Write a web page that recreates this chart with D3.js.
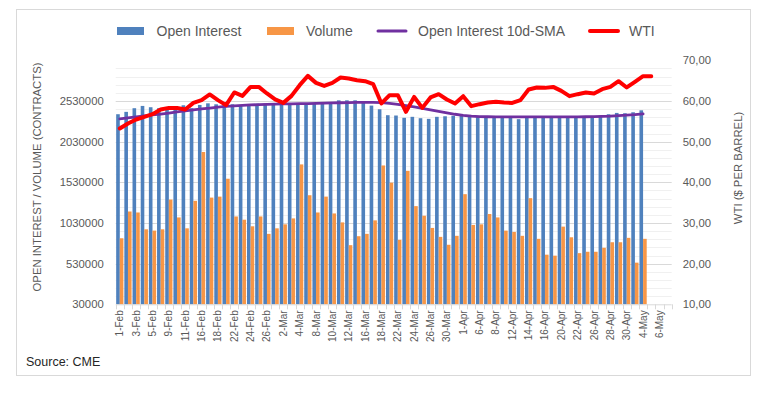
<!DOCTYPE html>
<html><head><meta charset="utf-8">
<script src="https://cdn.jsdelivr.net/npm/d3@7"></script>
<style>
html,body{margin:0;padding:0;background:#fff;}
svg text{font-family:"Liberation Sans",Arial,sans-serif;}
</style></head>
<body><svg id="c" width="778" height="394"></svg>
<script>
const categories = ["1-Feb","2-Feb","3-Feb","4-Feb","5-Feb","8-Feb","9-Feb","10-Feb","11-Feb","12-Feb","16-Feb","17-Feb","18-Feb","19-Feb","22-Feb","23-Feb","24-Feb","25-Feb","26-Feb",
"1-Mar","2-Mar","3-Mar","4-Mar","5-Mar","8-Mar","9-Mar","10-Mar","11-Mar","12-Mar","15-Mar","16-Mar","17-Mar","18-Mar","19-Mar","22-Mar","23-Mar","24-Mar","25-Mar","26-Mar","29-Mar","30-Mar","31-Mar",
"1-Apr","5-Apr","6-Apr","7-Apr","8-Apr","9-Apr","12-Apr","13-Apr","14-Apr","15-Apr","16-Apr","19-Apr","20-Apr","21-Apr","22-Apr","23-Apr","26-Apr","27-Apr","28-Apr","29-Apr","30-Apr",
"3-May","4-May","5-May","6-May","7-May"];

const openInterest = [2367000,2396000,2441000,2469000,2453000,2441000,2441000,2436000,2477000,2441000,
2481000,2501000,2489000,2481000,2489000,2481000,2493000,2497000,2497000,2501000,
2501000,2501000,2501000,2493000,2493000,2501000,2505000,2538000,2538000,2538000,
2522000,2473000,2428000,2355000,2351000,2323000,2335000,2318000,2310000,2335000,
2342000,2347000,2347000,2339000,2339000,2339000,2335000,2335000,2335000,2306000,
2330000,2330000,2330000,2330000,2330000,2326000,2326000,2326000,2326000,2351000,
2367000,2383000,2379000,2391000,2415000];

const volume = [842000,1171000,1159000,952000,936000,952000,1318000,1098000,964000,1302000,
1903000,1342000,1354000,1574000,1110000,1070000,989000,1110000,896000,964000,
1013000,1086000,1750000,1371000,1159000,1354000,1147000,1037000,757000,867000,
896000,1062000,1737000,1525000,823000,1671000,1237000,1119000,969000,859000,
762000,872000,1384000,1006000,1013000,1140000,1098000,936000,920000,872000,
1335000,835000,640000,628000,985000,854000,659000,676000,676000,725000,
793000,793000,847000,542000,835000];

const oiSma = [2310500,2322700,2334900,2347100,2359300,2369000,2381200,2395900,2408000,2420000,
2432400,2442200,2454400,2463000,2470200,2476300,2481200,2484900,2488500,2491000,
2493400,2494600,2497000,2498300,2500700,2503200,2505600,2508000,2509300,2511700,
2512900,2512900,2509300,2500700,2488500,2472700,2456800,2439800,2421500,2402000,
2383700,2366600,2353200,2343400,2338500,2336100,2334900,2334900,2334900,2334900,
2334900,2334900,2334900,2334900,2334900,2334900,2334900,2336100,2338500,2341000,
2344600,2350700,2356800,2362900,2371500];

const wti = [53.24,54.47,55.45,56.09,56.76,57.91,58.30,58.30,57.91,59.53,
60.20,61.60,60.20,58.97,62.09,61.25,63.46,63.46,61.84,60.37,
59.53,61.25,63.88,66.17,64.45,63.71,64.45,65.77,65.53,65.11,
64.86,64.13,59.39,61.43,61.43,57.33,61.00,58.30,60.86,61.67,
60.37,59.39,61.18,58.72,59.21,59.63,59.78,59.63,59.53,60.20,
62.83,63.32,63.22,63.46,62.48,61.18,61.67,62.09,61.84,62.90,
63.46,64.86,63.32,64.69,66.09,66.09];

const leftTicks = [30000,530000,1030000,1530000,2030000,2530000];
const rightTicks = [10,20,30,40,50,60,70];
const seriesNames = ["Open Interest","Volume","Open Interest 10d-SMA","WTI"];
const colors = {oi:"#4f81bd", vol:"#f79646", sma:"#7030a0", wti:"#ff0000"};

const svg = d3.select("#c");
const X0 = 115.7, X1 = 671.7, Y0 = 304.3, Y1 = 60.3;

// frame
svg.append("rect").attr("x",16.5).attr("y",9.5).attr("width",734).attr("height",366)
  .attr("fill","none").attr("stroke","#d9d9d9").attr("stroke-width",1);

const x = d3.scaleBand().domain(categories).range([X0, X1]).paddingInner(0).paddingOuter(0);
const xi = d3.scaleBand().domain(["oi","vol"]).range([0, x.bandwidth()]).paddingInner(0).paddingOuter(0.13);
const yL = d3.scaleLinear().domain([30000, 3030000]).range([Y0, Y1]);
const yR = d3.scaleLinear().domain([10, 70]).range([Y0, Y1]);

// gridlines
const minor = d3.range(130000, 3000000, 100000).filter(v => (v - 30000) % 500000 !== 0);
svg.append("g").selectAll("line").data(minor).join("line")
  .attr("x1",X0).attr("x2",X1).attr("y1",d=>Math.round(yL(d))+0.5).attr("y2",d=>Math.round(yL(d))+0.5)
  .attr("stroke","#f0f0f0").attr("stroke-width",1);
svg.append("g").selectAll("line").data(leftTicks.slice(1)).join("line")
  .attr("x1",X0).attr("x2",X1).attr("y1",d=>Math.round(yL(d))+0.5).attr("y2",d=>Math.round(yL(d))+0.5)
  .attr("stroke","#d9d9d9").attr("stroke-width",1);

// bars
const idx = d3.range(openInterest.length);
svg.append("g").selectAll("rect").data(idx).join("rect")
  .attr("x", i => x(categories[i]) + xi("oi"))
  .attr("width", xi.bandwidth())
  .attr("y", i => yL(openInterest[i]))
  .attr("height", i => yL(30000) - yL(openInterest[i]))
  .attr("fill", colors.oi);
svg.append("g").selectAll("rect").data(idx).join("rect")
  .attr("x", i => x(categories[i]) + xi("vol"))
  .attr("width", xi.bandwidth())
  .attr("y", i => yL(volume[i]))
  .attr("height", i => yL(30000) - yL(volume[i]))
  .attr("fill", colors.vol);

// x axis
const xAxis = d3.axisBottom(x).tickSize(0).tickFormat((d,i)=> i%2===0 ? d : "");
const gx = svg.append("g").attr("transform",`translate(0,${Y0})`).call(xAxis);
gx.select(".domain").attr("stroke","#d9d9d9").attr("d",`M${X0},0.5H${X1}`);
gx.selectAll(".tick text")
  .attr("transform","rotate(-90)")
  .attr("text-anchor","end")
  .attr("x",-6).attr("y",0).attr("dy","0.35em")
  .attr("fill","#595959").style("font-size","10px");
// category boundary tick marks
const bounds = categories.map(c => x(c)).concat([X1]);
svg.append("g").selectAll("line").data(bounds).join("line")
  .attr("x1",d=>Math.round(d)+0.5).attr("x2",d=>Math.round(d)+0.5)
  .attr("y1",Y0).attr("y2",Y0+5).attr("stroke","#d9d9d9");

// left axis
const gl = svg.append("g").attr("transform",`translate(${X0-12},0)`)
  .call(d3.axisLeft(yL).tickValues(leftTicks).tickSize(0).tickFormat(d3.format("d")));
gl.select(".domain").remove();
gl.selectAll("text").attr("fill","#595959").style("font-size","11.3px").attr("x",0);

// right axis
const gr = svg.append("g").attr("transform",`translate(${X1+11},0)`)
  .call(d3.axisRight(yR).tickValues(rightTicks).tickSize(0).tickFormat(d => d3.format(".2f")(d).replace(".",",")));
gr.select(".domain").remove();
gr.selectAll("text").attr("fill","#595959").style("font-size","11.3px").attr("x",0);

// axis titles
svg.append("text").attr("transform","translate(41,177) rotate(-90)").attr("text-anchor","middle")
  .attr("fill","#595959").style("font-size","11.3px").text("OPEN INTEREST / VOLUME (CONTRACTS)");
svg.append("text").attr("transform","translate(742,168) rotate(-90)").attr("text-anchor","middle")
  .attr("fill","#595959").style("font-size","11.3px").text("WTI ($ PER BARREL)");

// lines
const cx = i => x(categories[i]) + x.bandwidth()/2;
const smaLine = d3.line().x((d,i)=>cx(i)).y(d=>yL(d));
svg.append("path").datum(oiSma).attr("d",smaLine).attr("fill","none")
  .attr("stroke",colors.sma).attr("stroke-width",2.8).attr("stroke-linejoin","round").attr("stroke-linecap","round");
const wtiLine = d3.line().x((d,i)=>cx(i)).y(d=>yR(d));
svg.append("path").datum(wti).attr("d",wtiLine).attr("fill","none")
  .attr("stroke",colors.wti).attr("stroke-width",4).attr("stroke-linejoin","round").attr("stroke-linecap","round");

// legend
const lg = svg.append("g");
const legY = 31;
lg.append("rect").attr("x",117).attr("y",27).attr("width",27).attr("height",8).attr("fill",colors.oi);
lg.append("text").attr("x",156.5).attr("y",legY).attr("dy","0.35em").attr("fill","#595959").style("font-size","14px").text(seriesNames[0]);
lg.append("rect").attr("x",267).attr("y",27).attr("width",27).attr("height",8).attr("fill",colors.vol);
lg.append("text").attr("x",306).attr("y",legY).attr("dy","0.35em").attr("fill","#595959").style("font-size","14px").text(seriesNames[1]);
lg.append("line").attr("x1",378).attr("x2",406).attr("y1",legY).attr("y2",legY).attr("stroke",colors.sma).attr("stroke-width",3).attr("stroke-linecap","round");
lg.append("text").attr("x",418).attr("y",legY).attr("dy","0.35em").attr("fill","#595959").style("font-size","14px").text(seriesNames[2]);
lg.append("line").attr("x1",590).attr("x2",618).attr("y1",legY).attr("y2",legY).attr("stroke",colors.wti).attr("stroke-width",4).attr("stroke-linecap","round");
lg.append("text").attr("x",629).attr("y",legY).attr("dy","0.35em").attr("fill","#595959").style("font-size","14px").text(seriesNames[3]);

// source
svg.append("text").attr("x",26).attr("y",366).attr("fill","#262626").style("font-size","12.5px").text("Source: CME");
</script>
</body></html>
